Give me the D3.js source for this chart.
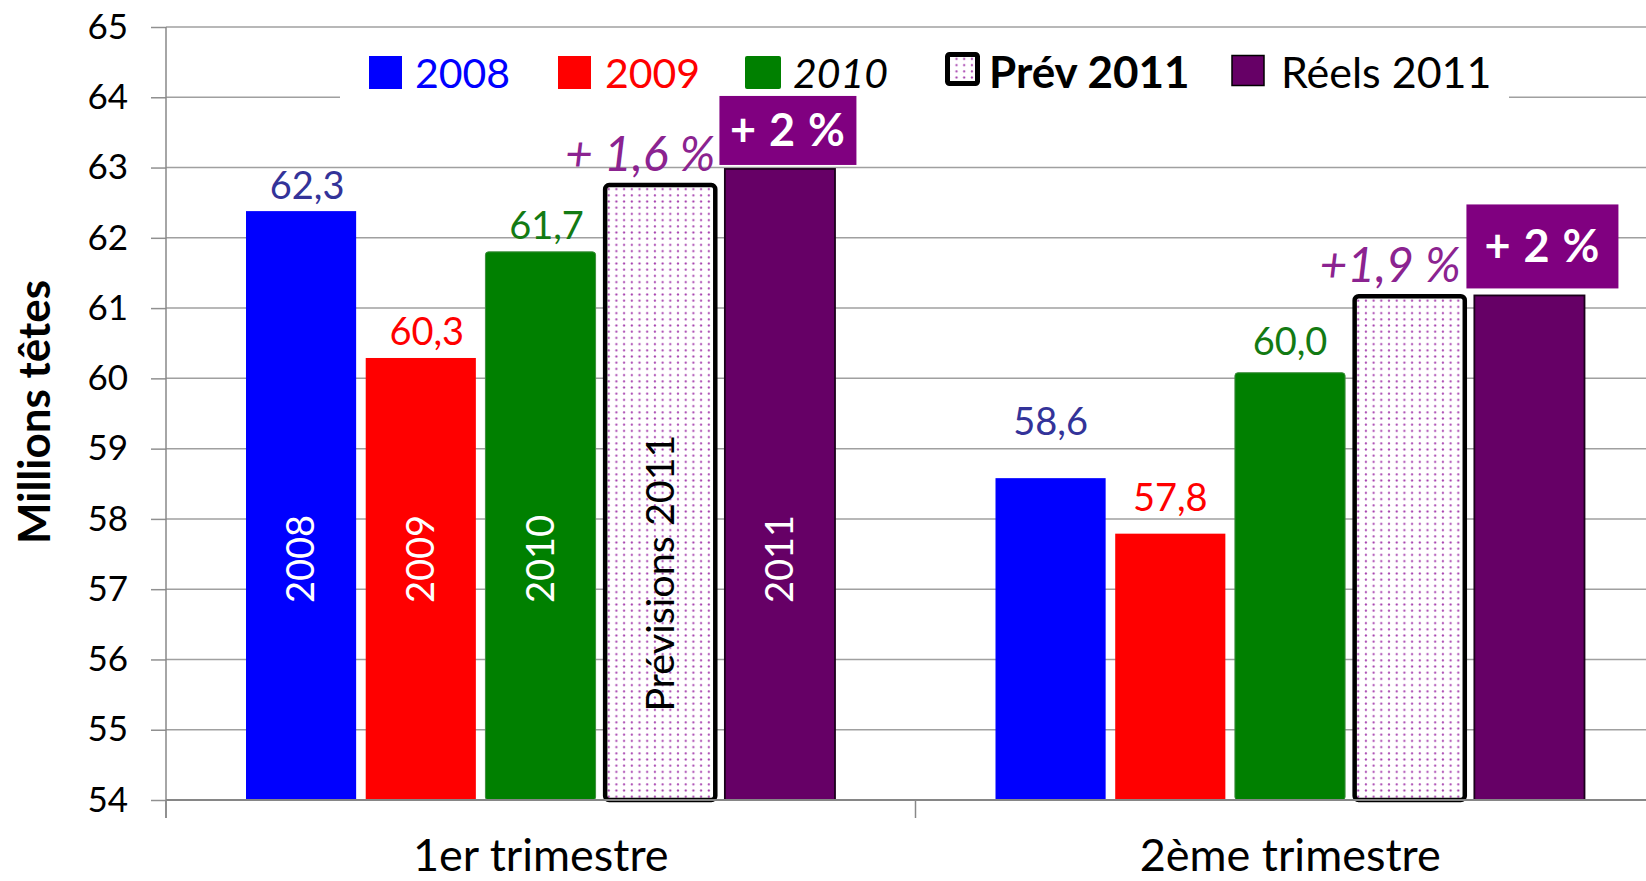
<!DOCTYPE html>
<html>
<head>
<meta charset="utf-8">
<script src="https://cdn.jsdelivr.net/npm/d3@7"></script>
<style>
  body { margin: 0; background: #fff; }
  svg { display: block; }
  text { font-family: Lato, "Open Sans", sans-serif; }
</style>
</head>
<body>
<svg id="chart" width="1646" height="881"></svg>
<script>
// ---- data ----
const quarters = ["1er trimestre", "2ème trimestre"];
const seriesNames = ["2008", "2009", "2010", "Prév 2011", "Réels 2011"];
const values2008 = [62.38, 58.58];
const values2009 = [60.29, 57.79];
const values2010 = [61.80, 60.08];
const valuesPrev2011 = [62.75, 61.17];
const valuesReels2011 = [62.98, 61.18];
const valueLabels2008 = ["62,3", "58,6"];
const valueLabels2009 = ["60,3", "57,8"];
const valueLabels2010 = ["61,7", "60,0"];
const growthPrev2011 = ["+ 1,6 %", "+1,9 %"];
const growthReels2011 = ["+ 2 %", "+ 2 %"];
const innerLabels = ["2008", "2009", "2010", "Prévisions 2011", "2011"];
const yTicks = [54, 55, 56, 57, 58, 59, 60, 61, 62, 63, 64, 65];

const allValues = [values2008, values2009, values2010, valuesPrev2011, valuesReels2011];
const allLabels = [valueLabels2008, valueLabels2009, valueLabels2010];

const colors = ["#0000ff", "#ff0000", "#008000", "url(#dots)", "#660066"];
const labelColors = ["#333399", "#ff0000", "#137a13"];

const svg = d3.select("#chart");
const W = 1646, H = 881;

const y = d3.scaleLinear().domain([54, 65]).range([800, 27]);
const x0 = d3.scaleBand().domain(quarters).range([166, 166 + 2 * 749.5]);
const x1 = d3.scaleBand().domain(seriesNames).range([80, 669]).paddingInner(0.08);

// dotted fill for the forecast bars
const defs = svg.append("defs");
const pat = defs.append("pattern")
  .attr("id", "dots")
  .attr("patternUnits", "userSpaceOnUse")
  .attr("width", 7.7).attr("height", 6.2);
pat.append("rect").attr("width", 7.7).attr("height", 6.2).attr("fill", "#fff");
pat.append("circle").attr("cx", 3.8).attr("cy", 3.1).attr("r", 1.1).attr("fill", "#a845b0");

// gridlines
svg.append("g").attr("class", "grid")
  .selectAll("line")
  .data(yTicks.filter(d => d > 54))
  .join("line")
  .attr("x1", 166).attr("x2", W)
  .attr("y1", d => y(d)).attr("y2", d => y(d))
  .attr("stroke", "#a0a0a0").attr("stroke-width", 1.5);

// legend background hides the 64 line
svg.append("rect")
  .attr("x", 340).attr("y", 40).attr("width", 1169).attr("height", 70)
  .attr("fill", "#fff");

// y axis
const yAxis = svg.append("g")
  .attr("transform", "translate(166,0)")
  .call(d3.axisLeft(y).tickValues(yTicks).tickSize(15).tickSizeOuter(0).tickPadding(23).tickFormat(d3.format("d")));
yAxis.select(".domain").remove();
yAxis.selectAll(".tick line").attr("stroke", "#909090").attr("stroke-width", 1.5);
yAxis.selectAll(".tick text")
  .attr("font-family", "'DejaVu Sans', sans-serif")
  .attr("font-size", 35).attr("fill", "#000");
svg.append("line")
  .attr("x1", 166).attr("x2", 166).attr("y1", y(65)).attr("y2", 818)
  .attr("stroke", "#888").attr("stroke-width", 1.5);

// bars
const groups = svg.append("g").selectAll("g")
  .data(quarters)
  .join("g")
  .attr("transform", d => `translate(${x0(d)},0)`);

const bars = groups.selectAll("rect")
  .data((q, qi) => seriesNames.map((s, si) => ({ q, qi, s, si, v: allValues[si][qi] })))
  .join("rect")
  .attr("x", d => x1(d.s))
  .attr("width", x1.bandwidth())
  .attr("y", d => y(d.v))
  .attr("height", d => y(54) - y(d.v))
  .attr("fill", d => colors[d.si])
  .attr("stroke", d => d.si == 3 ? "#000" : d.si == 4 ? "#1a001a" : d.si == 2 ? "#3c8c3c" : "none")
  .attr("stroke-width", d => d.si == 3 ? 4.5 : d.si == 4 ? 1.8 : 1)
  .attr("rx", d => d.si == 3 ? 4 : d.si == 2 ? 3 : 0);

// x axis
svg.append("line")
  .attr("x1", 166).attr("x2", W).attr("y1", y(54)).attr("y2", y(54))
  .attr("stroke", "#868686").attr("stroke-width", 2);
svg.append("g").selectAll("line")
  .data(quarters)
  .join("line")
  .attr("x1", d => x0(d)).attr("x2", d => x0(d))
  .attr("y1", y(54)).attr("y2", 818)
  .attr("stroke", "#888").attr("stroke-width", 1.5);
svg.append("g").selectAll("text")
  .data(quarters)
  .join("text")
  .attr("x", d => x0(d) + x0.bandwidth() / 2)
  .attr("y", 871)
  .attr("text-anchor", "middle")
  .attr("font-size", 45)
  .text(d => d);

// value labels above the 2008-2010 bars
const labelGap = [[12, 13, 13], [43, 23, 18]];
groups.selectAll("text.val")
  .data((q, qi) => allLabels.map((lab, si) => ({ qi, si, s: seriesNames[si], v: allValues[si][qi], t: lab[qi] })))
  .join("text")
  .attr("class", "val")
  .attr("x", d => x1(d.s) + x1.bandwidth() / 2 + (d.qi == 0 ? 6 : 0))
  .attr("y", d => y(d.v) - labelGap[d.qi][d.si])
  .attr("text-anchor", "middle")
  .attr("font-size", 38)
  .attr("fill", d => labelColors[d.si])
  .text(d => d.t);

// rotated labels inside the first quarter bars
const innerMid = [57.43, 57.43, 57.43, 57.23, 57.43];
svg.append("g").selectAll("text")
  .data(innerLabels)
  .join("text")
  .attr("transform", (d, i) => `translate(${x0(quarters[0]) + x1(seriesNames[i]) + x1.bandwidth() / 2},${y(innerMid[i])}) rotate(-90)`)
  .attr("dy", "0.35em")
  .attr("text-anchor", "middle")
  .attr("font-size", (d, i) => i == 3 ? 39.5 : 38)
  .attr("fill", (d, i) => i == 3 ? "#000" : "#fff")
  .text(d => d);

// growth of forecast (italic, purple)
groups.append("text")
  .attr("x", (q, qi) => x1(seriesNames[3]) + x1.bandwidth() - (qi == 0 ? 0 : 4))
  .attr("y", (q, qi) => y(valuesPrev2011[qi]) - 14)
  .attr("text-anchor", "end")
  .attr("font-size", 48)
  .attr("font-style", "italic")
  .attr("fill", "#8b2390")
  .text((q, qi) => growthPrev2011[qi]);

// "+ 2 %" badges over the actual 2011 bars
const badge = [{ dx: 8, gap: 4, w: 137, h: 69 }, { dx: 13, gap: 7, w: 152, h: 84 }];
const badgeG = groups.append("g")
  .attr("transform", (q, qi) => {
    const cx = x1(seriesNames[4]) + x1.bandwidth() / 2 + badge[qi].dx;
    const bottom = y(valuesReels2011[qi]) - badge[qi].gap;
    return `translate(${cx},${bottom - badge[qi].h / 2})`;
  });
badgeG.append("rect")
  .attr("x", (q, qi) => -badge[qi].w / 2)
  .attr("y", (q, qi) => -badge[qi].h / 2)
  .attr("width", (q, qi) => badge[qi].w)
  .attr("height", (q, qi) => badge[qi].h)
  .attr("fill", "#800080");
badgeG.append("text")
  .attr("y", 16)
  .attr("text-anchor", "middle")
  .attr("font-size", 45)
  .attr("letter-spacing", 1)
  .attr("font-weight", "bold")
  .attr("fill", "#fff")
  .text((q, qi) => growthReels2011[qi]);

// y title
svg.append("text")
  .attr("transform", "translate(35,412) rotate(-90)")
  .attr("dy", "0.35em")
  .attr("text-anchor", "middle")
  .attr("font-size", 44)
  .attr("font-weight", "bold")
  .text("Millions têtes");

// legend
const legendItems = [
  { x: 369, sw: [0, 56, 33, 33], tx: 46, size: 41, fill: "#0000ff", style: "normal", weight: "normal" },
  { x: 558, sw: [0, 56, 33, 33], tx: 47, size: 41, fill: "#ff0000", style: "normal", weight: "normal" },
  { x: 745, sw: [0, 56, 36, 33], tx: 48, size: 41, fill: "#000", style: "italic", weight: "normal" },
  { x: 945, sw: [2.5, 54.5, 30, 29], tx: 44, size: 44, fill: "#000", style: "normal", weight: "bold" },
  { x: 1231, sw: [1, 55.5, 32, 30], tx: 50, size: 43, fill: "#000", style: "normal", weight: "normal" }
];
const leg = svg.append("g").selectAll("g")
  .data(seriesNames)
  .join("g")
  .attr("transform", (d, i) => `translate(${legendItems[i].x},0)`);
leg.append("rect")
  .attr("x", (d, i) => legendItems[i].sw[0])
  .attr("y", (d, i) => legendItems[i].sw[1])
  .attr("width", (d, i) => legendItems[i].sw[2])
  .attr("height", (d, i) => legendItems[i].sw[3])
  .attr("rx", (d, i) => i == 2 || i == 3 ? 2 : 0)
  .attr("fill", (d, i) => colors[i])
  .attr("stroke", (d, i) => i >= 3 ? "#000" : "none")
  .attr("stroke-width", (d, i) => i == 3 ? 5 : 1.5);
leg.append("text")
  .attr("x", (d, i) => legendItems[i].tx)
  .attr("y", 88)
  .attr("font-size", (d, i) => legendItems[i].size)
  .attr("fill", (d, i) => legendItems[i].fill)
  .attr("font-style", (d, i) => legendItems[i].style)
  .attr("font-weight", (d, i) => legendItems[i].weight)
  .text(d => d);
</script>
</body>
</html>
